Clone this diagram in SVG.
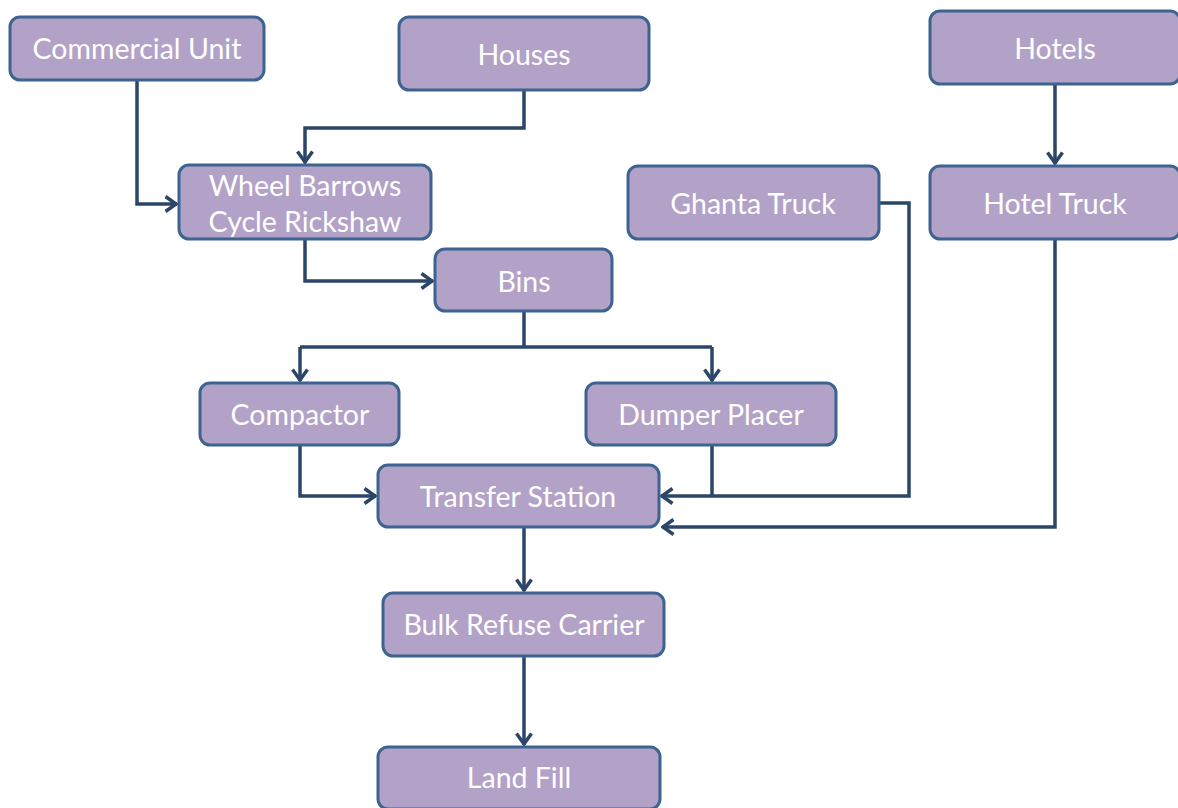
<svg xmlns="http://www.w3.org/2000/svg" width="1178" height="808" viewBox="0 0 1178 808">
  <style>
    .box { fill: #b3a2c7; stroke: #3d6390; stroke-width: 3; }
    .lbl { fill: #ffffff; font-family: Lato, "Open Sans", "Liberation Sans", sans-serif; font-size: 28.5px; text-anchor: middle; dominant-baseline: central; }
    .wire { fill: none; stroke: #2b4668; stroke-width: 3.5; stroke-linejoin: miter; }
  </style>
  <defs>
    <marker id="chev" viewBox="0 0 14 18" refX="13" refY="9" markerWidth="14" markerHeight="18" markerUnits="userSpaceOnUse" orient="auto">
      <path d="M1.5 1.5 L12 9 L1.5 16.5" fill="none" stroke="#2b4668" stroke-width="3.5"/>
    </marker>
  </defs>
  <rect width="1178" height="808" fill="#ffffff"/>

  <g id="connectors">
    <path class="wire" d="M137 80 V204 H177" marker-end="url(#chev)"/>
    <path class="wire" d="M524 90 V128 H305 V163" marker-end="url(#chev)"/>
    <path class="wire" d="M305 239 V281 H433" marker-end="url(#chev)"/>
    <path class="wire" d="M524 311 V347"/>
    <path class="wire" d="M300 347 H712"/>
    <path class="wire" d="M300 347 V381" marker-end="url(#chev)"/>
    <path class="wire" d="M712 347 V381" marker-end="url(#chev)"/>
    <path class="wire" d="M300 445 V496 H376" marker-end="url(#chev)"/>
    <path class="wire" d="M712 445 V496"/>
    <path class="wire" d="M879 203 H909 V496 H661" marker-end="url(#chev)"/>
    <path class="wire" d="M1055 84 V164" marker-end="url(#chev)"/>
    <path class="wire" d="M1055 239 V527 H662" marker-end="url(#chev)"/>
    <path class="wire" d="M524 528 V591" marker-end="url(#chev)"/>
    <path class="wire" d="M524 656 V745" marker-end="url(#chev)"/>
  </g>

  <g id="commercial-unit">
    <rect class="box" x="10" y="17" width="254" height="63" rx="10"/>
    <text class="lbl" x="137" y="48">Commercial Unit</text>
  </g>
  <g id="houses">
    <rect class="box" x="399" y="17" width="250" height="73" rx="10"/>
    <text class="lbl" x="524" y="54">Houses</text>
  </g>
  <g id="hotels">
    <rect class="box" x="930" y="11" width="250" height="73" rx="10"/>
    <text class="lbl" x="1055" y="48">Hotels</text>
  </g>
  <g id="wheel-barrows">
    <rect class="box" x="179" y="165" width="252" height="74" rx="10"/>
    <text class="lbl" x="305" y="185">Wheel Barrows</text>
    <text class="lbl" x="305" y="221">Cycle Rickshaw</text>
  </g>
  <g id="ghanta-truck">
    <rect class="box" x="628" y="166" width="251" height="73" rx="10"/>
    <text class="lbl" x="753" y="203">Ghanta Truck</text>
  </g>
  <g id="hotel-truck">
    <rect class="box" x="930" y="166" width="250" height="73" rx="10"/>
    <text class="lbl" x="1055" y="203">Hotel Truck</text>
  </g>
  <g id="bins">
    <rect class="box" x="435" y="249" width="177" height="62" rx="10"/>
    <text class="lbl" x="524" y="281">Bins</text>
  </g>
  <g id="compactor">
    <rect class="box" x="200" y="383" width="199" height="62" rx="10"/>
    <text class="lbl" x="300" y="414">Compactor</text>
  </g>
  <g id="dumper-placer">
    <rect class="box" x="586" y="383" width="250" height="62" rx="10"/>
    <text class="lbl" x="711" y="414">Dumper Placer</text>
  </g>
  <g id="transfer-station">
    <rect class="box" x="378" y="465" width="281" height="62" rx="10"/>
    <text class="lbl" x="518" y="496">Transfer Station</text>
  </g>
  <g id="bulk-refuse-carrier">
    <rect class="box" x="383" y="593" width="281" height="63" rx="10"/>
    <text class="lbl" x="524" y="624">Bulk Refuse Carrier</text>
  </g>
  <g id="land-fill">
    <rect class="box" x="378" y="747" width="282" height="62" rx="10"/>
    <text class="lbl" x="519" y="777">Land Fill</text>
  </g>
</svg>
